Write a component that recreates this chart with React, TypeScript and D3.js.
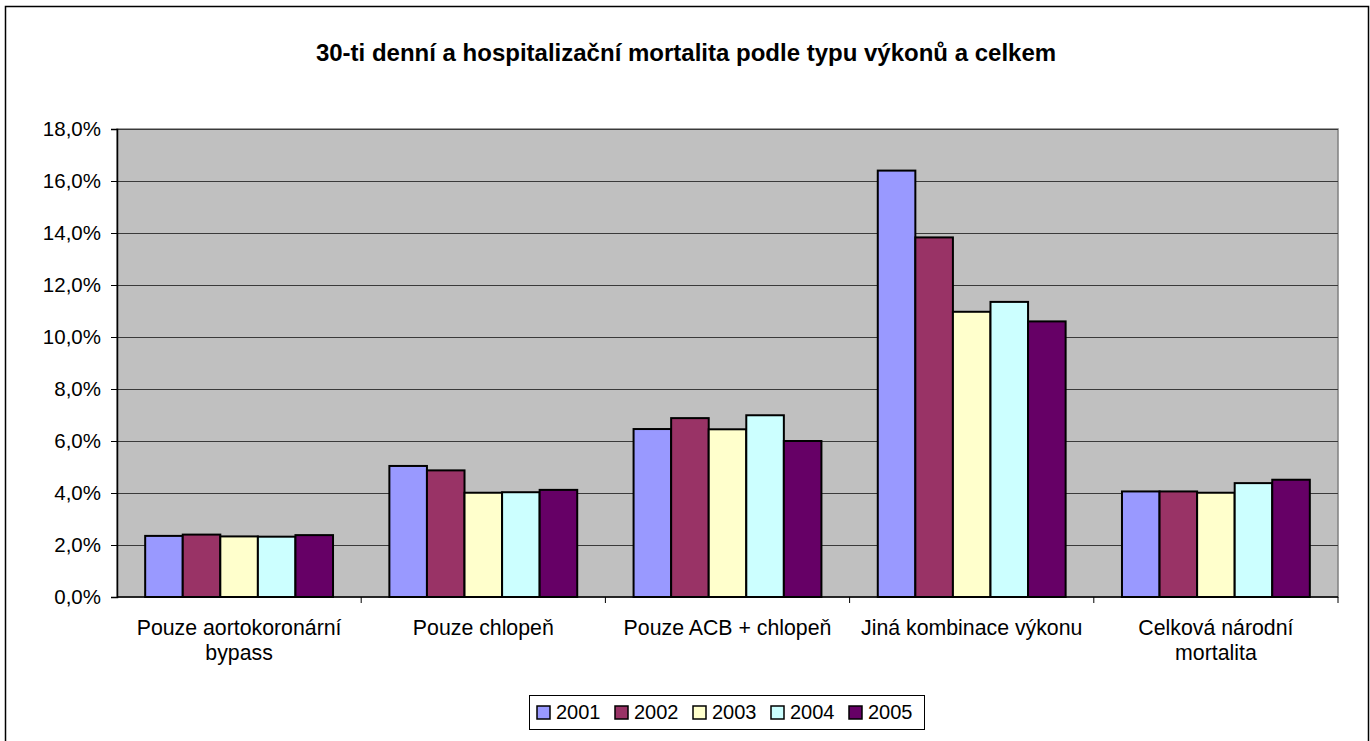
import { useEffect, useRef } from 'react';
import * as d3 from 'd3';

const categories = [
  'Pouze aortokoronární bypass',
  'Pouze chlopeň',
  'Pouze ACB + chlopeň',
  'Jiná kombinace výkonu',
  'Celková národní mortalita',
];

const years = ['2001', '2002', '2003', '2004', '2005'];

// mortality per category, one array per year (fraction)
const v2001 = [0.0235, 0.0504, 0.0646, 0.164, 0.0406];
const v2002 = [0.024, 0.0487, 0.0688, 0.1383, 0.0406];
const v2003 = [0.0233, 0.0401, 0.0645, 0.1097, 0.0401];
const v2004 = [0.0232, 0.0403, 0.0699, 0.1135, 0.0438];
const v2005 = [0.0238, 0.0412, 0.06, 0.106, 0.0451];

const yTicks = [0, 0.02, 0.04, 0.06, 0.08, 0.1, 0.12, 0.14, 0.16, 0.18];

const colors = ['#9999FF', '#993366', '#FFFFCC', '#CCFFFF', '#660066'];

const title = '30-ti denní a hospitalizační mortalita podle typu výkonů a celkem';

const FONT = '"Liberation Sans", Arial, sans-serif';

const MortalityChart = () => {
  const svgRef = useRef<SVGSVGElement>(null);

  useEffect(() => {
    if (!svgRef.current) return;
    const root = d3.select(svgRef.current);
    root.selectAll('*').remove();

    const width = 1370;
    const height = 741;
    const plot = { left: 117, right: 1338, top: 129, bottom: 597 };
    const series = [v2001, v2002, v2003, v2004, v2005];

    root.attr('width', width).attr('height', height);

    // Outer chart border
    root
      .append('rect')
      .attr('x', 5.5)
      .attr('y', 6.5)
      .attr('width', 1363)
      .attr('height', 745)
      .attr('fill', '#fff')
      .attr('stroke', '#000')
      .attr('stroke-width', 1.5);

    // Title
    root
      .append('text')
      .attr('x', 686)
      .attr('y', 61)
      .attr('text-anchor', 'middle')
      .attr('font-family', FONT)
      .attr('font-size', '24px')
      .attr('font-weight', 'bold')
      .text(title);

    const x = d3
      .scaleBand<string>()
      .domain(categories)
      .range([plot.left, plot.right])
      .paddingInner(0)
      .paddingOuter(0);

    const x1 = d3
      .scaleBand<string>()
      .domain(years)
      .range([0, x.bandwidth()])
      .paddingInner(0)
      .paddingOuter(0.75);

    const y = d3.scaleLinear().domain([0, 0.18]).range([plot.bottom, plot.top]);

    // Plot background
    root
      .append('rect')
      .attr('x', plot.left)
      .attr('y', plot.top)
      .attr('width', plot.right - plot.left)
      .attr('height', plot.bottom - plot.top)
      .attr('fill', '#C0C0C0')
      .attr('stroke', '#808080')
      .attr('stroke-width', 1.5);

    // Gridlines
    root
      .append('g')
      .selectAll('line')
      .data(yTicks.slice(1))
      .enter()
      .append('line')
      .attr('x1', plot.left)
      .attr('x2', plot.right)
      .attr('y1', (d) => Math.round(y(d)) + 0.5)
      .attr('y2', (d) => Math.round(y(d)) + 0.5)
      .attr('stroke', '#3a3a3a')
      .attr('stroke-width', 1);

    // Y axis
    const yAxis = root
      .append('g')
      .attr('transform', `translate(${plot.left},0)`)
      .call(
        d3
          .axisLeft(y)
          .tickValues(yTicks)
          .tickSize(6)
          .tickPadding(10)
          .tickFormat((d) => (d as number * 100).toFixed(1).replace('.', ',') + '%')
      );
    yAxis.select('.domain').attr('stroke', '#000').attr('stroke-width', 1.5);
    yAxis.selectAll('.tick line').attr('stroke', '#000');
    yAxis
      .selectAll('text')
      .attr('font-family', FONT)
      .attr('font-size', '20.5px')
      .attr('fill', '#000');

    // X axis line and ticks at category boundaries
    const xg = root.append('g');
    xg.append('line')
      .attr('x1', plot.left)
      .attr('x2', plot.right)
      .attr('y1', plot.bottom)
      .attr('y2', plot.bottom)
      .attr('stroke', '#000')
      .attr('stroke-width', 1.5);
    xg.selectAll('.xt')
      .data(categories)
      .enter()
      .append('line')
      .attr('x1', (d) => (x(d) || 0) + x.bandwidth())
      .attr('x2', (d) => (x(d) || 0) + x.bandwidth())
      .attr('y1', plot.bottom)
      .attr('y2', plot.bottom + 6)
      .attr('stroke', '#000');

    // Bars
    categories.forEach((cat, ci) => {
      root
        .append('g')
        .selectAll('rect')
        .data(years)
        .enter()
        .append('rect')
        .attr('x', (yr) => (x(cat) || 0) + (x1(yr) || 0))
        .attr('y', (_, si) => y(series[si][ci]))
        .attr('width', x1.bandwidth())
        .attr('height', (_, si) => plot.bottom - y(series[si][ci]))
        .attr('fill', (_, si) => colors[si])
        .attr('stroke', '#000')
        .attr('stroke-width', 2);
    });

    // Category labels, wrapped
    const maxW = 228;
    categories.forEach((cat) => {
      const cx = (x(cat) || 0) + x.bandwidth() / 2;
      const t = root
        .append('text')
        .attr('x', cx)
        .attr('y', 635)
        .attr('text-anchor', 'middle')
        .attr('font-family', FONT)
        .attr('font-size', '21.3px')
        .attr('fill', '#000');
      const words = cat.split(' ');
      let line: string[] = [];
      let lineNo = 0;
      let tspan = t.append('tspan').attr('x', cx).attr('y', 635);
      words.forEach((w) => {
        line.push(w);
        tspan.text(line.join(' '));
        const node = tspan.node() as SVGTSpanElement;
        if (node.getComputedTextLength() > maxW && line.length > 1) {
          line.pop();
          tspan.text(line.join(' '));
          line = [w];
          lineNo += 1;
          tspan = t
            .append('tspan')
            .attr('x', cx)
            .attr('y', 635 + lineNo * 25)
            .text(w);
        }
      });
    });

    // Legend
    const legend = root.append('g');
    legend
      .append('rect')
      .attr('x', 529.5)
      .attr('y', 695.5)
      .attr('width', 395)
      .attr('height', 34)
      .attr('fill', '#fff')
      .attr('stroke', '#000')
      .attr('stroke-width', 1);
    const items = legend
      .selectAll('.item')
      .data(years)
      .enter()
      .append('g')
      .attr('transform', (_, i) => `translate(${537 + i * 78},0)`);
    items
      .append('rect')
      .attr('x', 0)
      .attr('y', 706)
      .attr('width', 13)
      .attr('height', 13)
      .attr('fill', (_, i) => colors[i])
      .attr('stroke', '#000')
      .attr('stroke-width', 1.5);
    items
      .append('text')
      .attr('x', 19)
      .attr('y', 719)
      .attr('font-family', FONT)
      .attr('font-size', '20px')
      .text((d) => d);
  }, []);

  return (
    <svg
      ref={svgRef}
      style={{ position: 'absolute', left: 0, top: 0, display: 'block' }}
    ></svg>
  );
};

export default MortalityChart;
